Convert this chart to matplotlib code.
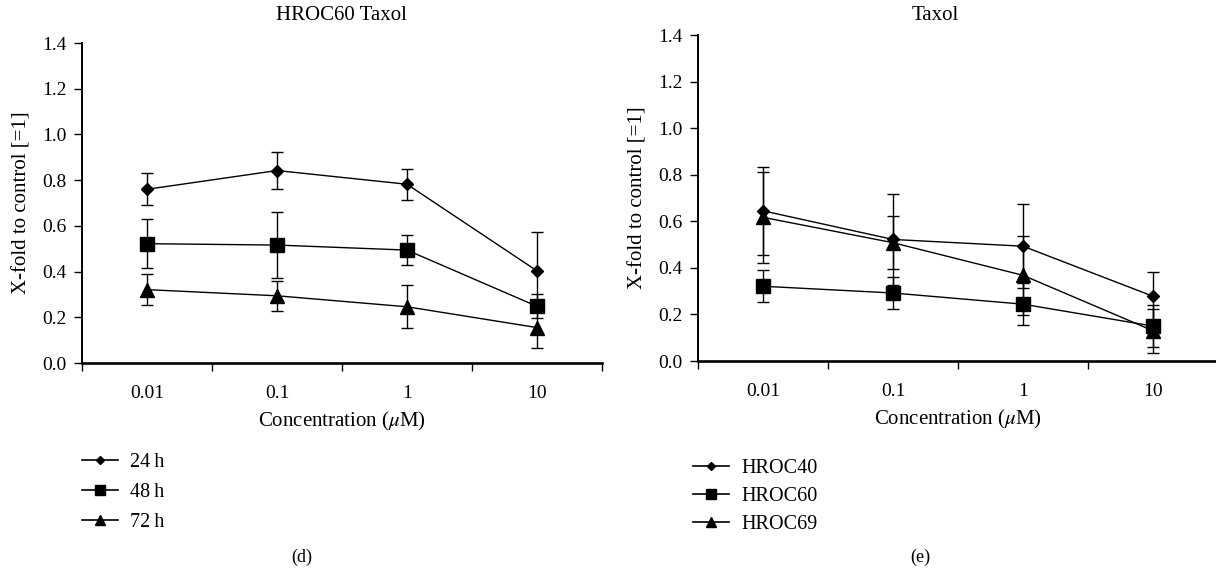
import numpy as np
import matplotlib
matplotlib.use("Agg")
import matplotlib.pyplot as plt
from matplotlib.lines import Line2D

plt.rcParams['font.family'] = ['Liberation Serif', 'DejaVu Serif']
plt.rcParams['mathtext.fontset'] = 'stix'

# ---------------- data ----------------
conc_labels = ['0.01', '0.1', '1', '10']

# panel (d): HROC60 Taxol, time series
d_names = ['24\u2009h', '48\u2009h', '72\u2009h']
d_24 = [0.76, 0.842, 0.782, 0.403]
d_24_err = [0.07, 0.08, 0.067, 0.17]
d_48 = [0.522, 0.516, 0.494, 0.248]
d_48_err = [0.106, 0.146, 0.067, 0.052]
d_72 = [0.321, 0.294, 0.246, 0.155]
d_72_err = [0.067, 0.066, 0.094, 0.09]

# panel (e): Taxol, cell lines
e_names = ['HROC40', 'HROC60', 'HROC69']
e_40 = [0.645, 0.522, 0.493, 0.278]
e_40_err = [0.19, 0.195, 0.18, 0.105]
e_60 = [0.321, 0.292, 0.244, 0.15]
e_60_err = [0.068, 0.068, 0.09, 0.09]
e_69 = [0.617, 0.508, 0.368, 0.13]
e_69_err = [0.195, 0.115, 0.17, 0.095]

markers = ['D', 's', '^']
msizes = [6, 9.5, 10.5]
leg_msizes = [4.5, 7, 6.5]

W, H = 1216, 571
fig = plt.figure(figsize=(W / 100, H / 100), dpi=100)


def px_axes(left, right, top, bottom):
    return fig.add_axes([left / W, 1 - bottom / H, (right - left) / W, (bottom - top) / H])


def style_axes(ax):
    ax.set_xlim(0, 4)
    ax.set_ylim(0, 1.4)
    ax.set_yticks(np.arange(0, 1.41, 0.2))
    ax.set_yticklabels([f'{v:.1f}' for v in np.arange(0, 1.41, 0.2)])
    ax.set_xticks([0, 1, 2, 3, 4])
    ax.set_xticklabels([])
    ax.set_xticks([0.5, 1.5, 2.5, 3.5], minor=True)
    ax.set_xticklabels(conc_labels, minor=True)
    ax.tick_params(axis='x', which='major', direction='out', length=6, width=1.0)
    ax.tick_params(axis='x', which='minor', length=0, pad=15.5, labelsize=14)
    ax.tick_params(axis='y', direction='out', length=6, width=1.0, labelsize=14, pad=5)
    for s in ['top', 'right']:
        ax.spines[s].set_visible(False)
    ax.spines['left'].set_linewidth(1.4)
    ax.spines['bottom'].set_linewidth(1.9)
    ax.set_xlabel('Concentration ($\\mu$M)', fontsize=15, labelpad=6)
    ax.set_ylabel('X-fold to control [=1]', fontsize=15, labelpad=8)


def draw(ax, series, errs):
    x = np.arange(4) + 0.5
    for vals, err, m, ms in zip(series, errs, markers, msizes):
        ax.errorbar(x, vals, yerr=err, color='black', marker=m, markersize=ms,
                    linewidth=1.0, elinewidth=1.0, capsize=4, capthick=1.0,
                    clip_on=False)


def legend_handles():
    return [Line2D([0], [0], color='black', lw=1.2, marker=m, markersize=s)
            for m, s in zip(markers, leg_msizes)]


ax1 = px_axes(82, 602, 43, 363)
style_axes(ax1)
draw(ax1, [d_24, d_48, d_72], [d_24_err, d_48_err, d_72_err])
fig.text(341 / W, 1 - 15 / H, 'HROC60 Taxol', ha='center', va='center', fontsize=15)
fig.legend(legend_handles(), d_names, loc='upper left',
           bbox_to_anchor=(82 / W, 1 - 453 / H), frameon=False,
           fontsize=14.5, handlelength=1.8, handletextpad=0.6,
           labelspacing=0.55, borderpad=0, borderaxespad=0)
fig.text(302 / W, 1 - 557 / H, '(d)', ha='center', va='center', fontsize=13)

ax2 = px_axes(698, 1218, 35, 361)
style_axes(ax2)
draw(ax2, [e_40, e_60, e_69], [e_40_err, e_60_err, e_69_err])
fig.text(935 / W, 1 - 15 / H, 'Taxol', ha='center', va='center', fontsize=15)
fig.legend(legend_handles(), e_names, loc='upper left',
           bbox_to_anchor=(693 / W, 1 - 459 / H), frameon=False,
           fontsize=14.5, handlelength=1.8, handletextpad=0.6,
           labelspacing=0.45, borderpad=0, borderaxespad=0)
fig.text(920 / W, 1 - 557 / H, '(e)', ha='center', va='center', fontsize=13)

fig.savefig('out.png', dpi=100)
